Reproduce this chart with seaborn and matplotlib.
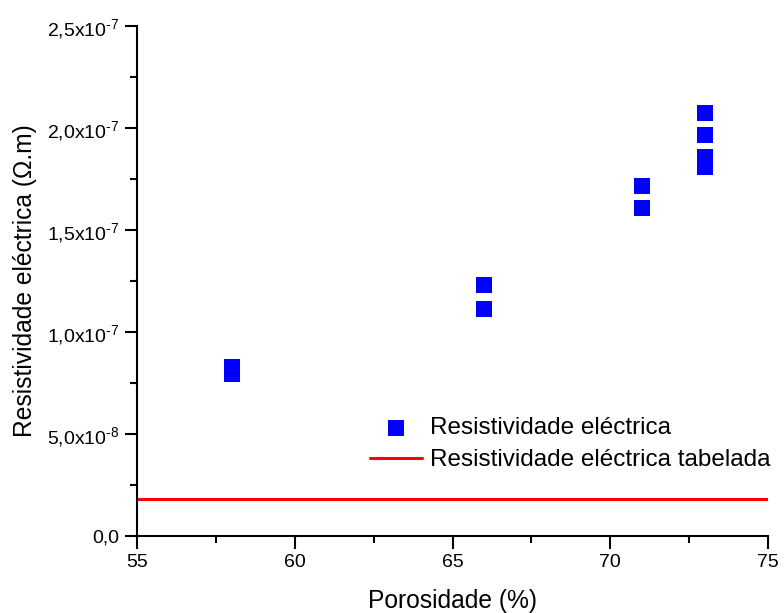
import matplotlib
matplotlib.use("Agg")
import matplotlib.pyplot as plt
import seaborn as sns
import pandas as pd
from matplotlib.ticker import MultipleLocator, FuncFormatter

# Measured resistivity vs porosity
porosidade = [58, 58, 66, 66, 71, 71, 73, 73, 73, 73]
resistividade = [8.3e-8, 7.95e-8, 1.23e-7, 1.115e-7, 1.716e-7, 1.608e-7,
                 2.074e-7, 1.964e-7, 1.86e-7, 1.811e-7]

# Tabulated reference value
tab_x = [55, 75]
tab_y = [1.8e-8, 1.8e-8]

label_pts = "Resistividade eléctrica"
label_tab = "Resistividade eléctrica tabelada"

sns.set_theme(style="ticks")
plt.rcParams["font.family"] = ["Liberation Sans", "DejaVu Sans"]
plt.rcParams["mathtext.fontset"] = "custom"
plt.rcParams["mathtext.rm"] = "Liberation Sans"
plt.rcParams["mathtext.it"] = "Liberation Sans:italic"
plt.rcParams["mathtext.bf"] = "Liberation Sans:bold"
plt.rcParams["text.color"] = "black"
plt.rcParams["axes.labelcolor"] = "black"

fig = plt.figure(figsize=(7.84, 6.13), dpi=100)
ax = fig.add_axes([0.1747, 0.1256, 0.805, 0.832])

df = pd.DataFrame({"x": porosidade, "y": resistividade})
sns.scatterplot(data=df, x="x", y="y", ax=ax, marker="s", s=118,
                color="#0000ff", edgecolor="#0000ff", linewidth=0,
                label=label_pts, zorder=3)
sns.lineplot(x=tab_x, y=tab_y, ax=ax, color="#ff0000", linewidth=2.2,
             label=label_tab)

ax.set_xlim(55, 75)
ax.set_ylim(0, 2.5e-7)
ax.xaxis.set_major_locator(MultipleLocator(5))
ax.xaxis.set_minor_locator(MultipleLocator(2.5))
ax.yaxis.set_major_locator(MultipleLocator(5e-8))
ax.yaxis.set_minor_locator(MultipleLocator(2.5e-8))


def fmt_y(v, pos):
    if abs(v) < 1e-12:
        return "0,0"
    exp = 0
    m = v
    while abs(m) < 1:
        m *= 10
        exp -= 1
    s = f"{m:.1f}".replace(".", ",")
    return s + r"x10$^{\mathrm{\text{-}" + str(-exp) + "}}$"


ax.yaxis.set_major_formatter(FuncFormatter(fmt_y))
ax.xaxis.set_major_formatter(FuncFormatter(lambda v, p: f"{v:g}"))

for s in ["top", "right"]:
    ax.spines[s].set_visible(False)
for s in ["left", "bottom"]:
    ax.spines[s].set_linewidth(1.5)
    ax.spines[s].set_color("black")

ax.tick_params(which="major", direction="out", length=9, width=1.5,
               labelsize=14, colors="black", pad=4)
ax.tick_params(which="minor", direction="out", length=5, width=1.5,
               colors="black")

ax.set_xlabel("Porosidade (%)", fontsize=17.7, labelpad=13, color="black")
ax.set_ylabel("Resistividade eléctrica (Ω.m)", fontsize=17.7, labelpad=7,
              color="black")

leg = ax.legend(loc="upper left", bbox_to_anchor=(0.369, 0.233),
                frameon=False, fontsize=17.5, handlelength=2.14,
                handletextpad=0.33, borderpad=0, borderaxespad=0,
                labelspacing=0.42, markerscale=1.0, labelcolor="black")

fig.savefig("out.png", dpi=100)
